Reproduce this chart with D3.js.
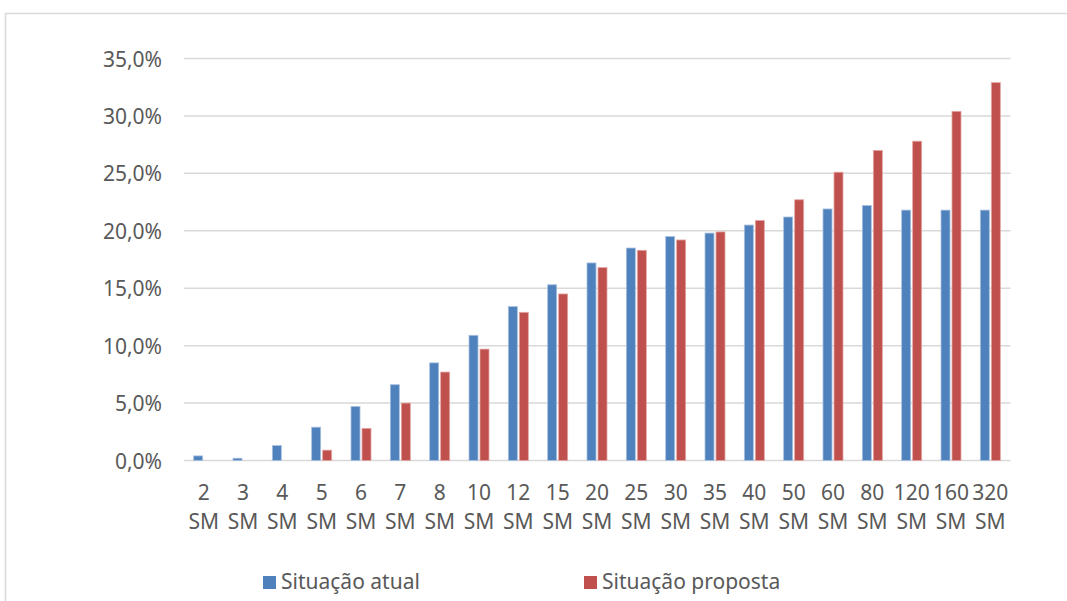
<!DOCTYPE html>
<html>
<head>
<meta charset="utf-8">
<script src="https://cdn.jsdelivr.net/npm/d3@7"></script>
<style>
  html, body { margin: 0; padding: 0; background: #ffffff; }
  svg { display: block; }
  text { font-family: "Noto Sans", "Liberation Sans", sans-serif; fill: #595959; }
</style>
</head>
<body>
<svg id="chart" width="1067" height="601"></svg>
<script>
// Income brackets (multiples of the minimum wage)
const categories = ["2", "3", "4", "5", "6", "7", "8", "10", "12", "15", "20", "25", "30", "35", "40", "50", "60", "80", "120", "160", "320"];
const unitLabel = "SM";

// Effective rate (%) per bracket
const atual    = [0.4, 0.2, 1.3, 2.9, 4.7, 6.6, 8.5, 10.9, 13.4, 15.3, 17.2, 18.5, 19.5, 19.8, 20.5, 21.2, 21.9, 22.2, 21.8, 21.8, 21.8];
const proposta = [0.0, 0.0, 0.0, 0.9, 2.8, 5.0, 7.7, 9.7, 12.9, 14.5, 16.8, 18.3, 19.2, 19.9, 20.9, 22.7, 25.1, 27.0, 27.8, 30.4, 32.9];

const seriesNames = ["Situação atual", "Situação proposta"];
const seriesColors = ["#4f81bd", "#c0504d"];
const seriesStroke = ["#a9c1e0", "#e3a6a4"];

const yTicks = [0, 5, 10, 15, 20, 25, 30, 35];

const svg = d3.select("#chart");

// outer chart frame (top and left edges visible)
svg.append("path")
  .attr("d", "M5.5,640 L5.5,13.5 L1080,13.5")
  .attr("fill", "none")
  .attr("stroke", "#d9d9d9")
  .attr("stroke-width", 1.5);

const x0 = d3.scaleBand().domain(categories).range([184, 1010]).padding(0);
const bw = x0.bandwidth();
const x1 = d3.scaleBand().domain(seriesNames)
  .range([bw / 2 - 10, bw / 2 + 10])
  .paddingInner(2 / 11).paddingOuter(0);
const y = d3.scaleLinear().domain([0, 35]).range([460.5, 58.5]);

const fmt = v => d3.format(".1f")(v).replace(".", ",") + "%";

// horizontal gridlines
svg.append("g").selectAll("line").data(yTicks).join("line")
  .attr("x1", 184).attr("x2", 1010.5)
  .attr("y1", d => y(d)).attr("y2", d => y(d))
  .attr("stroke", "#d9d9d9").attr("stroke-width", 1.5);

// value axis labels
const yAxis = d3.axisLeft(y).tickValues(yTicks).tickFormat(fmt).tickSize(0).tickPadding(0);
const gy = svg.append("g").attr("transform", "translate(162,0)").call(yAxis);
gy.select(".domain").remove();
gy.selectAll("text")
  .attr("font-size", 21)
  .attr("fill", "#595959")
  .attr("font-family", "'Noto Sans', sans-serif")
  .attr("dy", "0.36em");

// bars
const rows = categories.map((c, i) => ({ cat: c, vals: [atual[i], proposta[i]] }));
const groups = svg.append("g").selectAll("g").data(rows).join("g")
  .attr("transform", d => `translate(${x0(d.cat)},0)`);
groups.selectAll("rect")
  .data(d => d.vals.map((v, k) => ({ k, v })).filter(e => e.v > 0))
  .join("rect")
  .attr("x", e => x1(seriesNames[e.k]))
  .attr("width", x1.bandwidth())
  .attr("y", e => y(e.v))
  .attr("height", e => y(0) - y(e.v))
  .attr("fill", e => seriesColors[e.k])
  .attr("stroke", e => seriesStroke[e.k])
  .attr("stroke-width", 0.8);

// category labels (two lines)
const xl = svg.append("g").selectAll("text").data(categories).join("text")
  .attr("x", d => x0(d) + bw / 2)
  .attr("text-anchor", "middle")
  .attr("font-size", 21);
xl.append("tspan").attr("x", d => x0(d) + bw / 2).attr("y", 500).text(d => d);
xl.append("tspan").attr("x", d => x0(d) + bw / 2).attr("y", 529).text(unitLabel);

// legend
const legendPos = [263, 584];
const lg = svg.append("g").selectAll("g").data(seriesNames).join("g")
  .attr("transform", (d, i) => `translate(${legendPos[i]},0)`);
lg.append("rect")
  .attr("x", 0).attr("y", 576).attr("width", 13).attr("height", 13)
  .attr("fill", (d, i) => seriesColors[i]);
lg.append("text")
  .attr("x", 18).attr("y", 589)
  .attr("font-size", 21)
  .text(d => d);
</script>
</body>
</html>
